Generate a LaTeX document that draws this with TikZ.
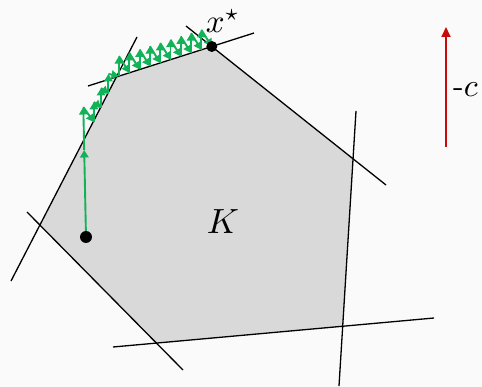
\documentclass[tikz,border=0pt]{standalone}
\usepackage{amsmath}
\usepackage{graphicx}
\usetikzlibrary{arrows.meta}
\definecolor{bgc}{RGB}{250,250,250}
\definecolor{regc}{RGB}{217,217,217}
\definecolor{pathc}{RGB}{18,178,88}
\definecolor{objc}{RGB}{200,10,10}
\begin{document}
\begin{tikzpicture}[x=1pt,y=-1pt,
  bound/.style={draw=black,line width=1.3pt},
  stepar/.style={draw=pathc,line width=1.9pt,-{Triangle[width=8.5pt,length=7.5pt]}},
  dot/.style={circle,fill=black,inner sep=0pt},
  lab/.style={inner sep=0pt}]
\fill[bgc] (0,0) rectangle (482,387);
\useasboundingbox (0,0) rectangle (482,387);
% polygon K
\coordinate (v1) at (211.8,46.5);
\coordinate (v2) at (353,158.8);
\coordinate (v3) at (342.7,326.2);
\coordinate (v4) at (156.4,343.1);
\coordinate (v5) at (39.9,225);
\coordinate (v6) at (116.4,77);
\fill[regc] (v1) -- (v2) -- (v3) -- (v4) -- (v5) -- (v6) -- cycle;
% constraint lines
\coordinate (l1a) at (186,26);  \coordinate (l1b) at (386,185);
\coordinate (l2a) at (88,86);   \coordinate (l2b) at (254,33);
\coordinate (l3a) at (137,37);  \coordinate (l3b) at (11,281);
\coordinate (l4a) at (27,212);  \coordinate (l4b) at (183,370);
\coordinate (l5a) at (113,347); \coordinate (l5b) at (434,318);
\coordinate (l6a) at (356,111); \coordinate (l6b) at (339,386);
\foreach \i in {1,...,6} {\draw[bound] (l\i a) -- (l\i b);}
% label K
\node[lab] (K) at (223,222) {\scalebox{3.5}{$K$}};
% path points
\coordinate (s0) at (86,237);
\coordinate (p1) at (84.2,150);
\coordinate (p2) at (83.3,107);
\coordinate (a1) at (93.9,122);
\coordinate (u1) at (93.9,102);
\coordinate (a2) at (101.1,108);
\coordinate (u2) at (101.1,88);
\coordinate (a3) at (108.4,94);
\coordinate (u3) at (108.4,74);
\coordinate (b0) at (119,76.1);   \coordinate (t0) at (119,56.1);
\coordinate (b1) at (129.3,72.8); \coordinate (t1) at (129.3,52.8);
\coordinate (b2) at (139.6,69.5); \coordinate (t2) at (139.6,49.5);
\coordinate (b3) at (149.9,66.2); \coordinate (t3) at (149.9,46.2);
\coordinate (b4) at (160.2,63.0); \coordinate (t4) at (160.2,43.0);
\coordinate (b5) at (170.5,59.7); \coordinate (t5) at (170.5,39.7);
\coordinate (b6) at (180.8,56.4); \coordinate (t6) at (180.8,36.4);
\coordinate (b7) at (191.1,53.1); \coordinate (t7) at (191.1,33.1);
\coordinate (b8) at (201.4,49.8); \coordinate (t8) at (201.4,29.8);
\coordinate (b9) at (211.8,46.5);
% green iterations
\draw[stepar] (s0) -- (p1);
\draw[stepar] (p1) -- (p2);
\draw[stepar] (p2) -- (a1);
\draw[stepar] (a1) -- (u1);
\draw[stepar] (u1) -- (a2);
\draw[stepar] (a2) -- (u2);
\draw[stepar] (u2) -- (a3);
\draw[stepar] (a3) -- (u3);
\draw[stepar] (u3) -- (b0);
\foreach \k [evaluate=\k as \n using int(\k+1)] in {0,...,8} {
  \draw[stepar] (b\k) -- (t\k);
  \draw[stepar] (t\k) -- (b\n);
}
% points
\node[dot,minimum size=12pt] (start) at (s0) {};
\node[dot,minimum size=11pt] (xstar) at (v1) {};
\node[lab] (xlab) at (223,21) {\scalebox{3.3}{$x^\star$}};
% objective direction
\coordinate (c0) at (446,147);
\coordinate (c1) at (446,27);
\draw[draw=objc,line width=1.8pt,-{Triangle[width=9pt,length=10pt]}] (c0) -- (c1);
\node[lab,anchor=west] (clab) at (453,90) {\scalebox{3.2}{$\text{-}c$}};
\end{tikzpicture}
\end{document}
